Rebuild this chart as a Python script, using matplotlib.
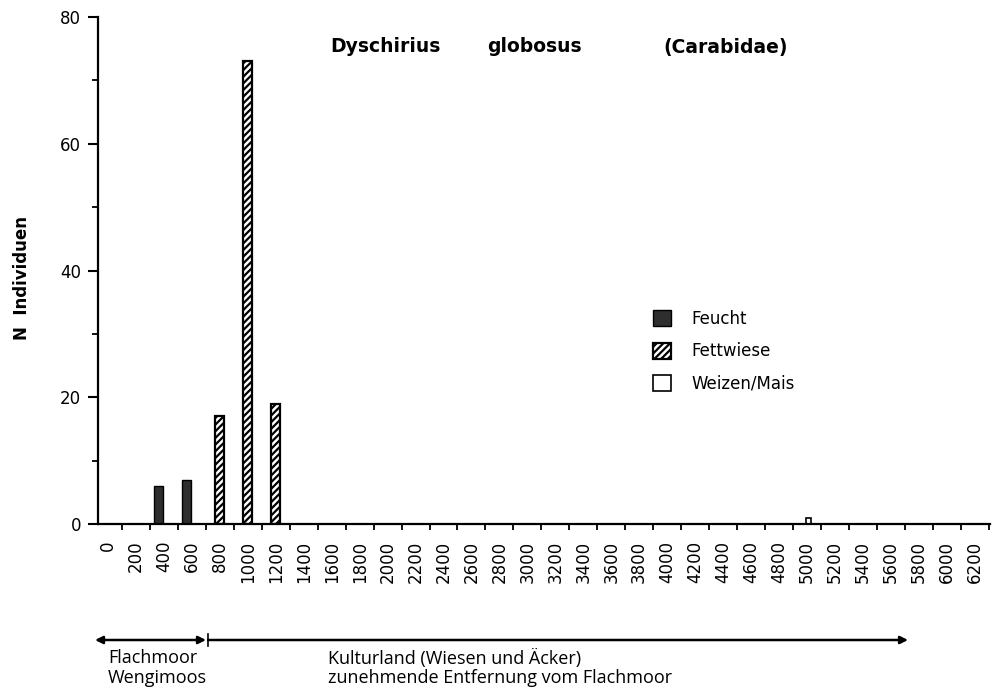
import matplotlib
matplotlib.use('Agg')
import matplotlib.pyplot as plt
import numpy as np

# distance classes (m) along the transect
distances = list(range(0, 6400, 200))

# counts per habitat type (distance -> N individuals)
feucht_dist = [400, 600]
feucht_n = [6, 7]
fettwiese_dist = [800, 1000, 1200]
fettwiese_n = [17, 73, 19]
weizen_dist = [5000]
weizen_n = [1]

y_ticks = [0, 20, 40, 60, 80]

plt.rcParams['font.family'] = 'DejaVu Sans'
plt.rcParams['hatch.linewidth'] = 1.6

fig = plt.figure(figsize=(9.98, 6.93), dpi=100)
ax = fig.add_axes([98/998, 1-524/693, (990-98)/998, (524-17)/693])

def pos(dlist):
    return np.array([distances.index(d) for d in dlist])

b1 = ax.bar(pos(feucht_dist) - 0.2, feucht_n, width=0.3, color='#2e2e2e',
            edgecolor='black', linewidth=1.0, label='Feucht')
b2 = ax.bar(pos(fettwiese_dist), fettwiese_n, width=0.32, color='white',
            edgecolor='black', linewidth=1.6, hatch='/////', label='Fettwiese')
b3 = ax.bar(pos(weizen_dist) + 0.05, weizen_n, width=0.2, color='white',
            edgecolor='black', linewidth=1.2, label='Weizen/Mais')

ax.set_xlim(-0.36, 31.55)
ax.set_ylim(0, 80)

ax.spines['top'].set_visible(False)
ax.spines['right'].set_visible(False)
ax.spines['left'].set_linewidth(1.6)
ax.spines['bottom'].set_linewidth(1.6)

ax.set_xticks(range(len(distances)))
ax.set_xticklabels([str(d) for d in distances], rotation=90, fontsize=12)
ax.set_xticks(np.arange(len(distances)) + 0.5, minor=True)
ax.tick_params(axis='x', which='major', length=0, pad=12)
ax.tick_params(axis='x', which='minor', length=4, width=1.3, direction='out')

ax.set_yticks(y_ticks)
ax.set_yticklabels([str(v) for v in y_ticks], fontsize=12)
ax.set_yticks([10, 30, 50, 70], minor=True)
ax.tick_params(axis='y', which='major', length=7, width=1.5, pad=5)
ax.tick_params(axis='y', which='minor', length=4, width=1.3)

# title, spaced out as in the original
for word, xp in [('Dyschirius', 330), ('globosus', 487), ('(Carabidae)', 663)]:
    fig.text(xp/998, 1-47/693, word, fontsize=13.5, fontweight='bold',
             va='center', ha='left')

fig.text(22/998, 1-278/693, 'N  Individuen', rotation=90, fontsize=12,
         fontweight='bold', va='center', ha='center')

ax.legend(handles=[b1, b2, b3], loc='upper left',
          bbox_to_anchor=(653/998, 1-310/693), bbox_transform=fig.transFigure,
          frameon=False, fontsize=12, handlelength=1.1, handleheight=1.1,
          handletextpad=1.2, labelspacing=0.85, borderpad=0, borderaxespad=0)

# transect arrows under the axis
ya = 1-640/693
ax.annotate('', xy=(95/998, ya), xytext=(206/998, ya), xycoords='figure fraction',
            arrowprops=dict(arrowstyle='<|-|>', color='black', lw=1.8,
                            mutation_scale=11, shrinkA=0, shrinkB=0))
ax.annotate('', xy=(908/998, ya), xytext=(208/998, ya), xycoords='figure fraction',
            arrowprops=dict(arrowstyle='-|>', color='black', lw=1.8,
                            mutation_scale=11, shrinkA=0, shrinkB=0))
fig.add_artist(plt.Line2D([208/998, 208/998], [ya - 6/693, ya + 6/693],
                          color='black', lw=1.2))

fig.text(108/998, 1-658/693, 'Flachmoor', fontsize=13, family='Open Sans',
         va='center', ha='left')
fig.text(108/998, 1-678/693, 'Wengimoos', fontsize=13, family='Open Sans',
         va='center', ha='left')
fig.text(328/998, 1-658/693, 'Kulturland (Wiesen und Äcker)', fontsize=13,
         family='Open Sans', va='center', ha='left')
fig.text(328/998, 1-678/693, 'zunehmende Entfernung vom Flachmoor', fontsize=13,
         family='Open Sans', va='center', ha='left')

fig.savefig('out.png', dpi=100)
